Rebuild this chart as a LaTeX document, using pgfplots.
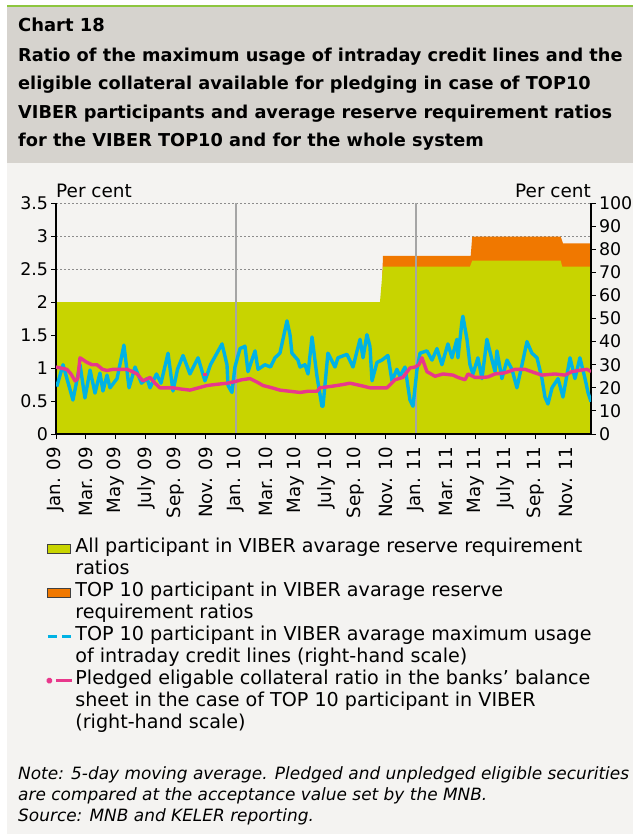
\documentclass[border=0pt]{standalone}
\usepackage{pgfplots}
\pgfplotsset{compat=1.18}
\usepackage{fontspec}
\setmainfont{DejaVu Sans}
\definecolor{hdr}{RGB}{214,211,206}
\definecolor{bg}{RGB}{244,243,241}
\definecolor{topgreen}{RGB}{141,198,63}
\definecolor{fillgreen}{RGB}{200,212,0}
\definecolor{fillorange}{RGB}{240,120,0}
\definecolor{lblue}{RGB}{0,178,228}
\definecolor{lpink}{RGB}{232,56,140}
\definecolor{vgray}{RGB}{165,165,165}
\pgfplotsset{base/.style={scale only axis, width=535bp, height=231bp,
  at={(56bp,-434bp)}, anchor=south west, xmin=0, xmax=35.67}}
\newcommand{\tickfont}{\fontsize{17.5}{19}\selectfont}
\begin{document}
\begin{tikzpicture}[x=1bp,y=1bp]
\fill[white] (0,0) rectangle (633,-834);
\fill[bg] (7,-7) rectangle (633,-834);
\fill[hdr] (7,-7) rectangle (633,-163);
\fill[topgreen] (7,-4.5) rectangle (633,-7);
\node[anchor=base west, inner sep=0pt, font=\bfseries\fontsize{18}{20}\selectfont] at (18,-31) {Chart 18};
\begin{scope}[every node/.style={anchor=base west, inner sep=0pt, font=\bfseries\fontsize{17.8}{20}\selectfont}]
\node at (18,-61) {Ratio of the maximum usage of intraday credit lines and the};
\node at (18,-89.5) {eligible collateral available for pledging in case of TOP10};
\node at (18,-118) {VIBER participants and average reserve requirement ratios};
\node at (18,-146.5) {for the VIBER TOP10 and for the whole system};
\end{scope}

% grid
\begin{axis}[base, ymin=0, ymax=3.5, ytick={0.5,1,1.5,2,2.5,3,3.5}, ymajorgrids,
  grid style={black!45, line width=0.8bp, dash pattern=on 1.5bp off 2.5bp},
  xtick=\empty, yticklabels={}, major tick length=0pt, axis line style={draw=none}]
\end{axis}

% areas, left scale
\begin{axis}[base, ymin=0, ymax=3.5, ytick={0,0.5,1,1.5,2,2.5,3,3.5},
  axis on top, axis x line*=bottom, axis y line*=left,
  axis line style={line width=1.4bp, -, black},
  tick style={line width=1bp, black}, major tick length=4.5bp, tick align=outside,
  xtick={0,2,...,34},
  xticklabels={Jan. 09, Mar. 09, May 09, July 09, Sep. 09, Nov. 09, Jan. 10, Mar. 10, May 10, July 10, Sep. 10, Nov. 10, Jan. 11, Mar. 11, May 11, July 11, Sep. 11, Nov. 11},
  xticklabel style={rotate=90, anchor=east, font=\fontsize{18.3}{20}\selectfont},
  xticklabel shift=5bp,
  yticklabel style={font=\tickfont},
  ylabel={Per cent},
  every axis y label/.style={at={(rel axis cs:0,1)}, anchor=base west, yshift=6bp, inner sep=0pt, font=\fontsize{18.5}{20}\selectfont},
  /pgf/number format/assume math mode=true]
\addplot[fill=fillorange, draw=none] coordinates {(0,2)(21.7,2)(21.8,2.70)(27.65,2.70)(27.75,2.99)(33.65,2.99)(33.8,2.89)(35.67,2.89)} \closedcycle;
\addplot[fill=fillgreen, draw=none] coordinates {(0,2)(21.6,2)(21.8,2.535)(27.6,2.535)(27.75,2.626)(33.65,2.626)(33.75,2.535)(35.67,2.535)} \closedcycle;
\addplot[vgray, line width=2bp] coordinates {(12,0)(12,3.5)};
\addplot[vgray, line width=2bp] coordinates {(24,0)(24,3.5)};
\end{axis}

% lines, right scale
\begin{axis}[base, ymin=0, ymax=100, ytick={0,10,...,100},
  axis y line*=right, axis x line=none, xtick=\empty,
  axis line style={line width=1.4bp, -, black},
  tick style={line width=1bp, black}, major tick length=4.5bp, tick align=outside,
  yticklabel style={font=\tickfont},
  ylabel={Per cent},
  every axis y label/.style={at={(rel axis cs:1,1)}, anchor=base east, yshift=6bp, inner sep=0pt, font=\fontsize{18.5}{20}\selectfont},
  /pgf/number format/assume math mode=true,
  legend cell align=left,
  legend style={at={(0,0)}, anchor=north west, xshift=-10bp, yshift=-104bp,
    draw=none, fill=none, font=\fontsize{19.2}{21.9}\selectfont,
    row sep=0bp, column sep=2bp, inner sep=0pt,
    nodes={inner sep=0pt, text height=14.6bp, text depth=7.3bp}}]
\addlegendimage{legend image code/.code={\filldraw[fill=fillgreen, draw=black!75, line width=0.9bp] (0bp,-4.5bp) rectangle (23bp,4.5bp);}}
\addlegendentry{All participant in VIBER avarage reserve requirement}
\addlegendimage{empty legend}
\addlegendentry{ratios}
\addlegendimage{legend image code/.code={\filldraw[fill=fillorange, draw=black!75, line width=0.9bp] (0bp,-4.5bp) rectangle (23bp,4.5bp);}}
\addlegendentry{TOP 10 participant in VIBER avarage reserve}
\addlegendimage{empty legend}
\addlegendentry{requirement ratios}
\addplot[lblue, line width=3.4bp, line join=round,
  legend image code/.code={\draw[lblue, line width=3bp, dash pattern=on 9bp off 5bp] (0bp,0bp) -- (24bp,0bp);}]
 coordinates {(0.05,20.5)(0.47,30)(1.13,14.7)(1.6,30)(1.93,15.6)(2.27,27.7)(2.6,17.7)(2.93,26.4)(3.13,18.6)(3.4,25.5)(3.6,20)(4.07,24)(4.53,38.5)(4.87,20)(5.27,29)(5.7,22)(6.07,24)(6.27,20)(6.7,26)(7.0,22)(7.47,35)(7.8,18.6)(8.1,28)(8.47,34)(8.93,26)(9.47,33)(9.93,23)(10.3,30)(10.73,35)(11.07,39)(11.4,30)(11.47,21)(11.73,18)(11.93,29)(12.27,37)(12.6,38)(12.8,27)(13.27,36)(13.47,28)(13.93,30)(14.3,29)(14.6,33)(14.93,35)(15.4,49)(15.6,43)(15.73,35)(16.13,32)(16.27,29)(16.6,30)(16.8,26)(17.07,42)(17.4,25)(17.73,12)(17.8,12)(18.13,35)(18.6,29)(18.8,33)(19.4,34.5)(19.8,29)(20.27,41)(20.47,33)(20.73,43)(20.93,38)(21.07,23)(21.4,31)(21.73,32)(22.13,34)(22.4,23)(22.73,28)(22.93,25)(23.27,29)(23.6,14.7)(23.8,12)(24.07,28)(24.27,35)(24.73,36)(25.07,32)(25.4,37)(25.73,30)(26.13,39)(26.4,33)(26.73,41)(26.8,33)(27.07,49)(27.13,51)(27.4,41)(27.6,30)(27.8,26)(28.13,33)(28.4,24)(28.73,41)(29.07,32)(29.27,27)(29.4,36)(29.73,24)(30.07,32)(30.4,28)(30.73,20)(31.07,30)(31.4,40)(31.73,35)(32.07,33)(32.4,24)(32.6,16)(32.8,13)(33.07,20)(33.47,24)(33.8,16)(34.27,33)(34.6,24)(34.93,33)(35.27,24)(35.47,18)(35.67,14)};
\addlegendentry{TOP 10 participant in VIBER avarage maximum usage}
\addlegendimage{empty legend}
\addlegendentry{of intraday credit lines (right-hand scale)}
\addplot[lpink, line width=3.4bp, line join=round,
  legend image code/.code={\fill[lpink] (1.5bp,0bp) circle (1.5bp); \draw[lpink, line width=3bp] (8bp,0bp) -- (24bp,0bp);}]
 coordinates {(0,29)(0.73,28)(1.0,26)(1.27,23)(1.45,24)(1.6,33)(2.07,31)(2.4,30)(2.73,30)(3.1,28)(3.4,27.5)(3.8,28)(4.3,28)(4.73,28)(5.1,27)(5.4,26)(5.8,23)(6.27,24.5)(6.6,22)(6.93,20)(7.4,20)(7.8,20)(8.3,19.5)(8.93,19)(9.5,20)(10.07,21)(10.7,21.5)(11.4,22)(11.8,22.5)(12.4,23.5)(12.93,24)(13.4,22.5)(13.8,21)(14.4,20)(14.93,19)(15.6,18.5)(16.27,18)(16.8,18.5)(17.4,18.5)(17.6,20)(18.2,20.5)(18.73,21)(19.2,21.5)(19.6,22)(20.3,21)(20.93,20)(21.5,20)(22.07,20)(22.6,23.5)(23.13,24.5)(23.6,28.6)(23.93,29)(24.2,30)(24.4,33)(24.73,27)(25.27,25)(25.8,26)(26.47,25.5)(26.8,24.5)(27.27,23.5)(27.47,26)(27.93,24.5)(28.4,24.5)(28.8,24.7)(29.27,26)(29.93,26.5)(30.6,28)(31.27,28)(31.93,26.5)(32.4,25.5)(33.27,26)(33.93,25.5)(34.4,27)(34.93,27.6)(35.4,28)(35.67,27)};
\addlegendentry{Pledged eligable collateral ratio in the banks’ balance}
\addlegendimage{empty legend}
\addlegendentry{sheet in the case of TOP 10 participant in VIBER}
\addlegendimage{empty legend}
\addlegendentry{(right-hand scale)}
\addplot[lpink, line width=3.4bp, forget plot] coordinates {(9.8,25.8)(10.05,25.8)};
\end{axis}

\begin{scope}[every node/.style={anchor=base west, inner sep=0pt, font=\itshape\fontsize{17}{20}\selectfont}]
\node at (18,-779) {Note: 5-day moving average. Pledged and unpledged eligible securities};
\node at (18,-800) {are compared at the acceptance value set by the MNB.};
\node at (18,-821) {Source: MNB and KELER reporting.};
\end{scope}
\end{tikzpicture}
\end{document}
